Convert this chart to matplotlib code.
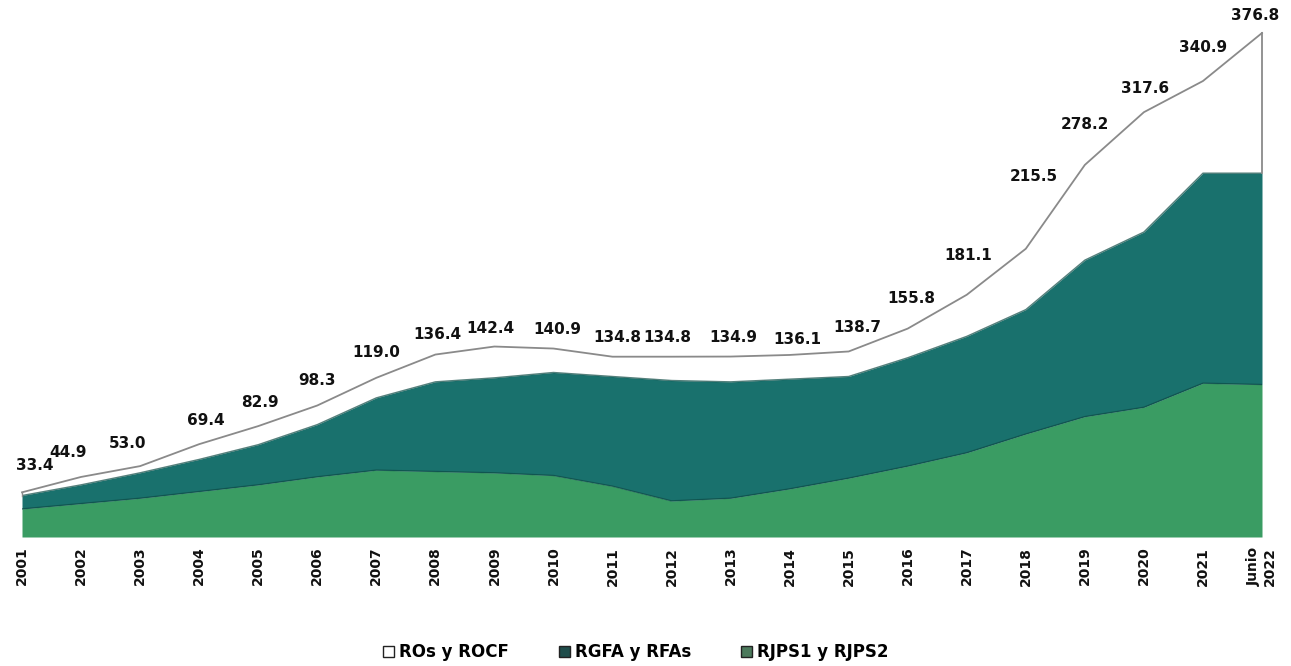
import matplotlib
matplotlib.use("Agg")
import matplotlib.pyplot as plt
from matplotlib.patches import Patch

# ---- data ----
years = ["2001", "2002", "2003", "2004", "2005", "2006", "2007", "2008", "2009", "2010",
         "2011", "2012", "2013", "2014", "2015", "2016", "2017", "2018", "2019", "2020",
         "2021", "Junio\n2022"]
total = [33.4, 44.9, 53.0, 69.4, 82.9, 98.3, 119.0, 136.4, 142.4, 140.9, 134.8, 134.8,
         134.9, 136.1, 138.7, 155.8, 181.1, 215.5, 278.2, 317.6, 340.9, 376.8]
rjps = [21, 25, 29, 34, 39, 45, 50, 49, 48, 46, 38, 27, 29, 36, 44, 53, 63, 77, 90, 97, 115, 114]
rgfa = [10, 14, 19, 24, 30, 39, 54, 67, 71, 77, 82, 90, 87, 82, 76, 81, 87, 93, 117, 131, 157, 158]
ros = [2.4, 5.9, 5.0, 11.4, 13.9, 14.3, 15.0, 20.4, 23.4, 17.9, 14.8, 17.8, 18.9, 18.1, 18.7,
       21.8, 31.1, 45.5, 71.2, 89.6, 68.9, 104.8]
series_names = ["ROs y ROCF", "RGFA y RFAs", "RJPS1 y RJPS2"]

# label offsets (pixels) relative to each point
label_dx = [13, -13, -13, 7, 2, 0, 0, 2, -4, 4, 5, -4, 3, 8, 9, 4, 1, 8, 0, 1, 0, -7]
label_dy = [27, 24, 23, 24, 24, 25, 25, 20, 18, 19, 19, 19, 19, 15, 24, 30, 39, 72, 40, 24, 34, 17]

# ---- style ----
GREEN = "#3a9c63"
TEAL = "#19716d"
EDGE = "#0d4a44"
LINE = "#8a8a8a"

W, H = 1291, 666
fig = plt.figure(figsize=(W / 100, H / 100), dpi=100)
fig.patch.set_facecolor("white")
ax = fig.add_axes([22 / W, 129 / H, 1240 / W, 504 / H])

x = list(range(len(years)))
teal_top = [a + b for a, b in zip(rjps, rgfa)]
top = [a + b for a, b in zip(teal_top, ros)]

ax.fill_between(x, 0, rjps, color=GREEN, linewidth=0)
ax.fill_between(x, rjps, teal_top, color=TEAL, linewidth=0)
ax.plot(x, rjps, color=EDGE, lw=1.0, alpha=0.7)
ax.plot(x, teal_top, color=EDGE, lw=1.0, alpha=0.7)
ax.plot(x, top, color=LINE, lw=1.3, clip_on=False)
ax.plot([x[-1], x[-1]], [teal_top[-1], top[-1]], color=LINE, lw=1.3, clip_on=False)
ax.plot([x[0], x[0]], [teal_top[0], top[0]], color=LINE, lw=1.0, clip_on=False)

for i, v in enumerate(total):
    ax.annotate(f"{v:.1f}", xy=(x[i], top[i]), xytext=(label_dx[i], label_dy[i]),
                textcoords="offset pixels", ha="center", va="center",
                fontsize=11, fontweight="bold", color="#111111",
                family="DejaVu Sans", annotation_clip=False)

ax.set_xlim(0, len(years) - 1)
ax.set_ylim(0, 376.8)
ax.set_xticks(x)
ax.set_xticklabels(years, rotation=90, fontsize=10, fontweight="bold",
                   color="#111111", va="top", ha="center", multialignment="center")
ax.tick_params(axis="x", length=0, pad=7)
ax.set_yticks([])
for s in ax.spines.values():
    s.set_visible(False)

handles = [Patch(facecolor="white", edgecolor="#222222", linewidth=1.0),
           Patch(facecolor="#1f4d4b", edgecolor="#222222", linewidth=1.0),
           Patch(facecolor="#4c7a5c", edgecolor="#222222", linewidth=1.0)]
fig.legend(handles, series_names, loc="center", bbox_to_anchor=(636 / W, 14 / H),
           ncol=3, frameon=False, handlelength=0.65, handleheight=0.65,
           handletextpad=0.3, columnspacing=3.0,
           prop={"weight": "bold", "size": 12, "family": "DejaVu Sans"})

fig.savefig("out.png", dpi=100, facecolor="white")
